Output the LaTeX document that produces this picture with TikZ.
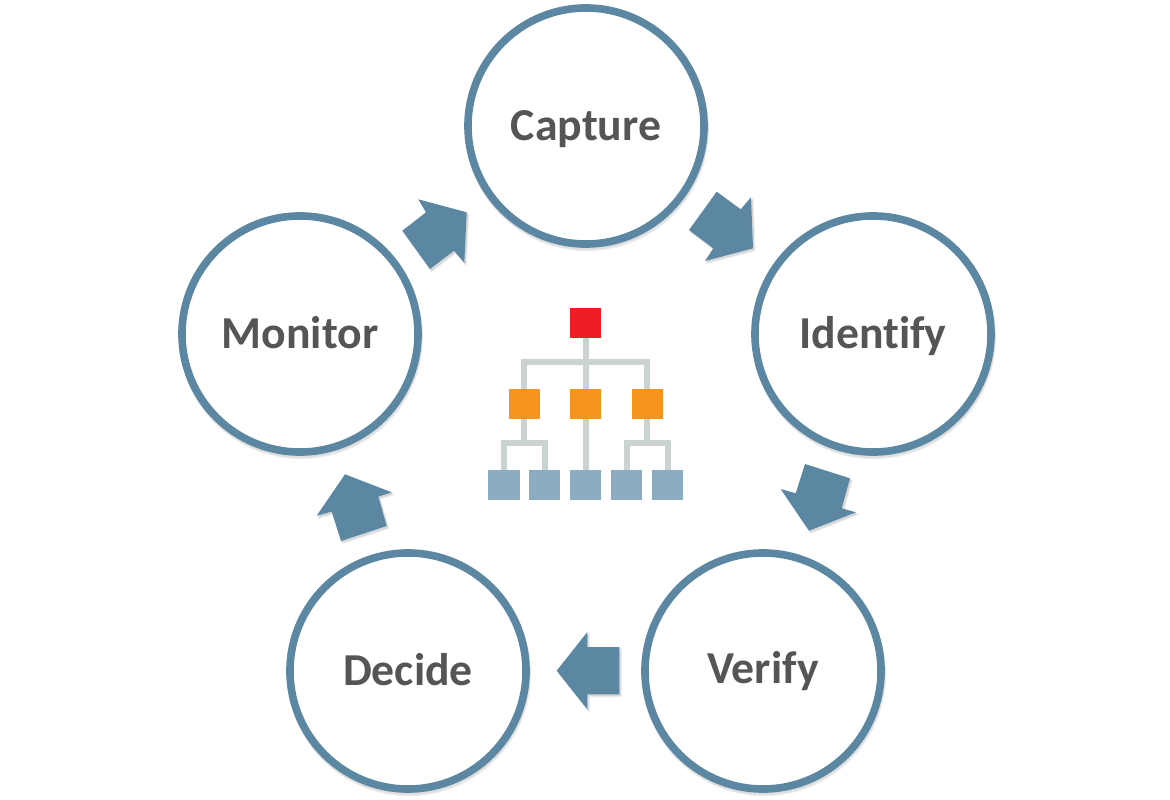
\documentclass[tikz,border=0pt]{standalone}
\usepackage{fontspec}
\setmainfont[Ligatures=NoCommon]{Carlito}
\definecolor{ringblue}{HTML}{5B87A3}
\definecolor{leafblue}{HTML}{8CADC1}
\definecolor{linegray}{HTML}{CBD2D2}
\definecolor{rootred}{HTML}{EE1C25}
\definecolor{midorange}{HTML}{F7941E}
\definecolor{labelgray}{HTML}{555555}
\newcommand{\stagetext}[2]{\raisebox{-#2pt}[0pt][0pt]{#1}}
\tikzset{
  softshadow/.style={
    preaction={fill=black,draw=black,draw opacity=.05,fill opacity=.05,line width=1.2pt,transform canvas={xshift=1.3pt,yshift=-1.6pt}},
    preaction={fill=black,fill opacity=.10,transform canvas={xshift=1pt,yshift=-1.2pt}}},
  stage/.style={circle,draw=ringblue,fill=white,line width=.19cm,minimum size=5.9cm,inner sep=0pt,
    text=labelgray,font=\fontsize{32.5}{38}\selectfont\bfseries,
    preaction={draw=black,draw opacity=.07,line width=.19cm,transform canvas={xshift=.5pt,yshift=-1.6pt}},
    preaction={draw=black,draw opacity=.06,line width=.19cm,transform canvas={xshift=.8pt,yshift=-2.4pt}}},
  blockarrow/.style={fill=ringblue,draw=none,softshadow},
  orgbox/.style={rectangle,draw=none,inner sep=0pt,minimum width=.78cm,minimum height=.75cm},
  rootbox/.style={orgbox,fill=rootred},
  midbox/.style={orgbox,fill=midorange},
  leafbox/.style={orgbox,fill=leafblue},
  orgline/.style={draw=linegray,line width=.15cm}
}
\begin{document}
\begin{tikzpicture}[x=.025cm,y=-.025cm]
\useasboundingbox (0,0) rectangle (1170,800);
% stages
\node[stage] (capture) at (586,126) {\stagetext{Capture}{10}};
\node[stage] (identify) at (873,334) {\stagetext{Identify}{10}};
\node[stage] (verify) at (763,671) {\stagetext{Verify}{9}};
\node[stage] (decide) at (408,671) {\stagetext{Decide}{10}};
\node[stage] (monitor) at (300,334) {\stagetext{Monitor}{10}};
% block arrows
\path[blockarrow] (402.3,230.7)--(426,212.3)--(418.3,199.3)--(466.7,212.3)--(464.3,262.7)--(454,250.7)--(430,269)--cycle;
\path[blockarrow] (716.7,191.7)--(740.7,209.3)--(751,197.3)--(753,248.3)--(705,261)--(713.3,248.3)--(689,230)--cycle;
\path[blockarrow] (805,464)--(850,478.3)--(841.7,508.3)--(856,512.3)--(809,530.7)--(780.7,489)--(795.7,493.3)--cycle;
\path[blockarrow] (619.3,647)--(619.3,694.3)--(587.3,694.3)--(587.3,709.3)--(556.7,670.7)--(587.3,632)--(587.3,647)--cycle;
\path[blockarrow] (345,474.3)--(391.7,492.3)--(378.3,496.7)--(386.7,526)--(341,541)--(331.7,511.7)--(316.7,515.7)--cycle;
% org chart
\node[rootbox] (root) at (585.8,322.7) {};
\node[midbox] (m1) at (524.3,403.8) {};
\node[midbox] (m2) at (585.8,403.8) {};
\node[midbox] (m3) at (647.3,403.8) {};
\node[leafbox] (l1) at (504,484.9) {};
\node[leafbox] (l2) at (544.8,484.9) {};
\node[leafbox] (l3) at (585.8,484.9) {};
\node[leafbox] (l4) at (626.7,484.9) {};
\node[leafbox] (l5) at (667.7,484.9) {};
\coordinate (busa) at (585.8,361.7);
\coordinate (busb) at (524.3,442.7);
\coordinate (busc) at (647.3,442.7);
\draw[orgline] (root.south) -- (m2.north);
\draw[orgline] (m1.north) |- (busa) -| (m3.north);
\draw[orgline] (m1.south) -- (busb);
\draw[orgline] (l1.north) |- (busb) -| (l2.north);
\draw[orgline] (m2.south) -- (l3.north);
\draw[orgline] (m3.south) -- (busc);
\draw[orgline] (l4.north) |- (busc) -| (l5.north);
\end{tikzpicture}
\end{document}
